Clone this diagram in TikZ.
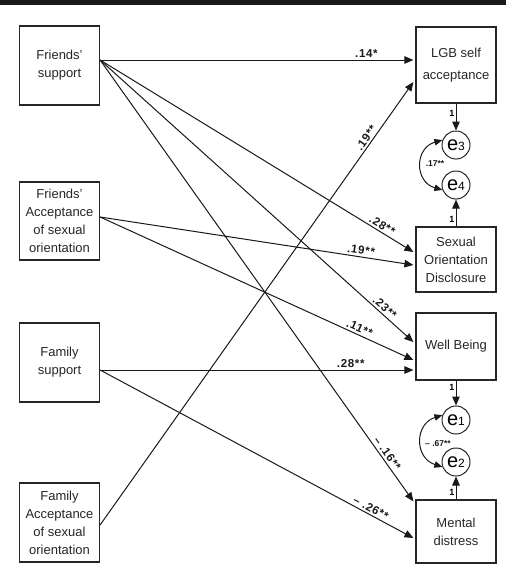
\documentclass[tikz,border=0pt]{standalone}
\usepackage{fontspec}
\setmainfont{Liberation Sans}
\usetikzlibrary{arrows.meta}
\begin{document}
\begin{tikzpicture}[x=1pt,y=-1pt,
  box/.style={draw=black!85,line width=1.2pt,align=center,inner sep=1pt,
    font=\fontsize{13}{18}\selectfont,text=black!85},
  lbox/.style={box,minimum width=80pt,minimum height=79pt},
  rbox/.style={box,minimum width=80pt},
  err/.style={draw=black!85,line width=1pt,circle,minimum size=28pt,inner sep=0pt},
  path/.style={draw=black!90,line width=1pt,-{Triangle[length=9pt,width=7.5pt]}},
  cov/.style={draw=black!90,line width=1pt,{Triangle[length=8pt,width=6.5pt]}-{Triangle[length=8pt,width=6.5pt]}},
  coef/.style={font=\fontsize{11.5}{11.5}\selectfont\bfseries\addfontfeature{LetterSpace=6},text=black!90,inner sep=1pt,sloped,above=1pt},
  one/.style={font=\fontsize{9}{9}\selectfont\bfseries,inner sep=1pt,left},
  small/.style={font=\fontsize{8.5}{8.5}\selectfont\bfseries,inner sep=0pt,text=black!90}
]
\useasboundingbox (0,0) rectangle (506,576);
\fill[black!90] (0,0) rectangle (506,4.5);

\newcommand{\eps}[1]{{\fontsize{20}{20}\selectfont e}{\fontsize{12}{12}\selectfont #1}}

% left boxes
\node[lbox] (fs) at (59.5,65.5) {Friends’\\support};
\node[lbox,minimum height=78pt] (fa) at (59.5,221) {Friends’\\Acceptance\\of sexual\\orientation};
\node[lbox] (fms) at (59.5,362.5) {Family\\support};
\node[lbox] (fma) at (59.5,522.5) {Family\\Acceptance\\of sexual\\orientation};

% right boxes
\node[rbox,minimum height=76pt,font=\fontsize{13}{22}\selectfont] (lgb) at (456,65) {LGB self\\acceptance};
\node[rbox,minimum height=65pt] (sod) at (456,259.5) {Sexual\\Orientation\\Disclosure};
\node[rbox,minimum height=67pt] (wb) at (456,346.5) {Well Being};
\node[rbox,minimum height=63pt] (md) at (456,531.5) {Mental\\distress};

% error terms
\node[err] (e3) at (456,145) {\eps{3}};
\node[err] (e4) at (456,185) {\eps{4}};
\node[err] (e1) at (456,420) {\eps{1}};
\node[err] (e2) at (456,462) {\eps{2}};

% paths
\draw[path] ([yshift=5.5pt]fs.east) -- ([xshift=-2pt,yshift=5pt]lgb.west) node[coef,pos=0.85] {.14*};
\draw[path] ([yshift=5.5pt]fs.east) -- ([xshift=-2pt,yshift=7.5pt]sod.west) node[coef,pos=0.89] {.28**};
\draw[path] ([yshift=5.5pt]fs.east) -- ([xshift=-2pt,yshift=4.5pt]wb.west) node[coef,pos=0.895] {.23**};
\draw[path] ([yshift=5.5pt]fs.east) -- ([xshift=-2pt,yshift=-2pt]md.north west) node[coef,pos=0.90] {– .16**};
\draw[path] ([yshift=4pt]fa.east) -- ([xshift=-2pt,yshift=-5.5pt]sod.west) node[coef,pos=0.83] {.19**};
\draw[path] ([yshift=4pt]fa.east) -- ([xshift=-2pt,yshift=-13.5pt]wb.west) node[coef,pos=0.82] {.11**};
\draw[path] ([yshift=-7.5pt]fms.east) -- ([xshift=-2pt,yshift=-23.5pt]wb.west) node[coef,pos=0.80] {.28**};
\draw[path] ([yshift=-7.5pt]fms.east) -- ([xshift=-2pt,yshift=-6.5pt]md.west) node[coef,pos=0.855] {– .26**};
\draw[path] ([yshift=-2.5pt]fma.east) -- ([xshift=-2pt,yshift=-17pt]lgb.west) node[coef,pos=0.866] {.19**};

% residual paths
\draw[path] (lgb.south) -- (e3.north) node[one,pos=0.36] {1};
\draw[path] (sod.north) -- (e4.south) node[one,pos=0.25] {1};
\draw[path] (wb.south) -- (e1.north) node[one,pos=0.27] {1};
\draw[path] (md.north) -- (e2.south) node[one,pos=0.3] {1};

% covariances
\draw[cov] (e3.160) .. controls +(-28,8) and +(-28,-8) .. (e4.200);
\node[small] (c34) at (435,164) {.17**};
\draw[cov] (e1.160) .. controls +(-28,9) and +(-28,-9) .. (e2.200);
\node[small] (c12) at (438,444) {– .67**};
\end{tikzpicture}
\end{document}
